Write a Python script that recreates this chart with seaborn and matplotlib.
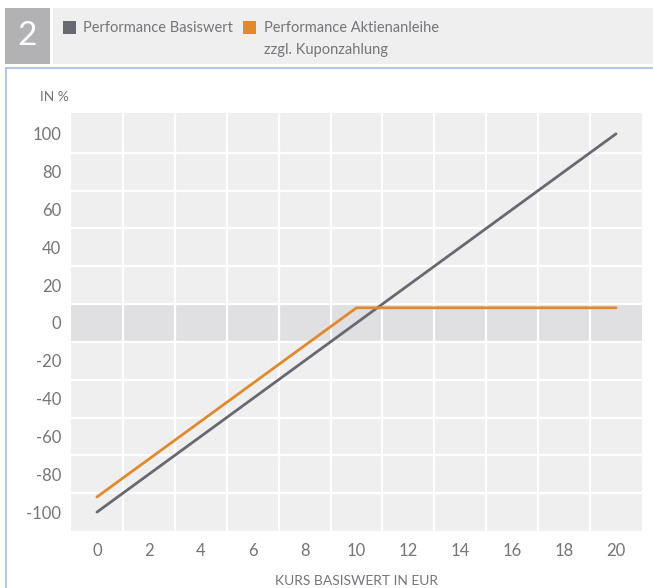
import numpy as np
import pandas as pd
import seaborn as sns
import matplotlib.pyplot as plt
from matplotlib.patches import Rectangle
from matplotlib.lines import Line2D

# data
kurs = [0, 2, 4, 6, 8, 10, 12, 14, 16, 18, 20]
perf_basiswert = [-100, -80, -60, -40, -20, 0, 20, 40, 60, 80, 100]
perf_aktienanleihe = [-92, -72, -52, -32, -12, 8, 8, 8, 8, 8, 8]
y_ticks = [-100, -80, -60, -40, -20, 0, 20, 40, 60, 80, 100]

df = pd.DataFrame({
    'Kurs': kurs * 2,
    'Performance': perf_basiswert + perf_aktienanleihe,
    'Serie': ['Performance Basiswert'] * len(kurs) + ['Performance Aktienanleihe'] * len(kurs),
})

grey = '#66696f'
orange = '#e0892f'
txt = '#747578'

sns.set_style('white', {'axes.facecolor': '#efefef'})
plt.rcParams['font.family'] = ['Lato', 'DejaVu Sans']
plt.rcParams['axes.unicode_minus'] = False

fig = plt.figure(figsize=(6.53, 5.88), dpi=100)
ax = fig.add_axes([71 / 653, 1 - 531 / 588, 571 / 653, 418 / 588])

# grey zero band
ax.axhspan(-10, 10, color='#e0e0e2', zorder=0.5, lw=0)

sns.lineplot(data=df, x='Kurs', y='Performance', hue='Serie',
             palette={'Performance Basiswert': grey, 'Performance Aktienanleihe': orange},
             linewidth=2.0, legend=False, ax=ax, zorder=3)

ax.set_xlim(-1, 21)
ax.set_ylim(-110, 111)
ax.set_xticks(kurs)
ax.set_yticks(y_ticks)
ax.set_xticks(np.arange(1, 21, 2), minor=True)
ax.set_yticks(np.arange(-90, 100, 20), minor=True)
ax.grid(False)
ax.grid(which='minor', color='white', linewidth=1.6)
ax.set_axisbelow(True)
ax.tick_params(which='both', length=0)
ax.tick_params(axis='y', labelsize=12, labelcolor=txt, pad=7)
ax.tick_params(axis='x', labelsize=12, labelcolor=txt, pad=9)
for s in ax.spines.values():
    s.set_visible(False)
ax.set_xlabel('KURS BASISWERT IN EUR', fontsize=10, color=txt, labelpad=11)
ax.set_ylabel('')
fig.text(40 / 653, 1 - 97 / 588, 'IN %', fontsize=10, color=txt, va='center', ha='left')

# header
fig.patches.append(Rectangle((5 / 653, 1 - 64 / 588), 45 / 653, 56 / 588,
                             transform=fig.transFigure, color='#b2b2b5', lw=0))
fig.patches.append(Rectangle((53 / 653, 1 - 64 / 588), 600 / 653, 56 / 588,
                             transform=fig.transFigure, color='#efefef', lw=0))
fig.text(27 / 653, 1 - 36 / 588, '2', fontsize=24, color='white', ha='center', va='center')
fig.patches.append(Rectangle((63 / 653, 1 - 34 / 588), 13 / 653, 13 / 588,
                             transform=fig.transFigure, color=grey, lw=0))
fig.text(83 / 653, 1 - 28 / 588, 'Performance Basiswert', fontsize=10.5, color=txt, va='center')
fig.patches.append(Rectangle((243 / 653, 1 - 34 / 588), 13 / 653, 13 / 588,
                             transform=fig.transFigure, color=orange, lw=0))
fig.text(264 / 653, 1 - 28 / 588, 'Performance Aktienanleihe', fontsize=10.5, color=txt, va='center')
fig.text(264 / 653, 1 - 50 / 588, 'zzgl. Kuponzahlung', fontsize=10.5, color=txt, va='center')

# light blue frame
fig.lines.append(Line2D([6 / 653, 6 / 653], [0, 1 - 68 / 588], transform=fig.transFigure,
                        color='#a7bedd', lw=1.2))
fig.lines.append(Line2D([6 / 653, 1], [1 - 68 / 588, 1 - 68 / 588], transform=fig.transFigure,
                        color='#a7bedd', lw=1.2))

fig.savefig('out.png', dpi=100, facecolor='white')
